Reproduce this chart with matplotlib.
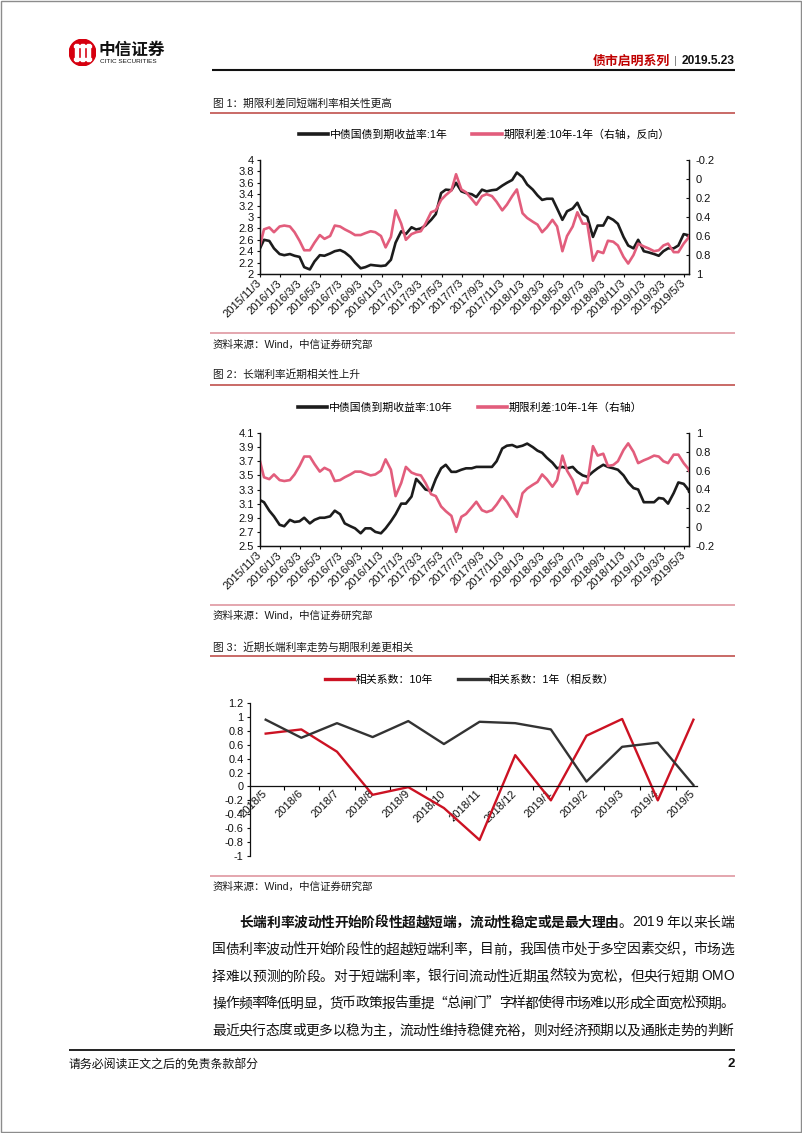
import numpy as np
import pandas as pd
import matplotlib
matplotlib.use('Agg')
import matplotlib.pyplot as plt
from matplotlib.lines import Line2D
from matplotlib.patches import Rectangle, Circle
from matplotlib import font_manager as fm
from matplotlib.ft2font import FT2Font

plt.rcParams['font.family'] = ['Liberation Sans', 'Noto Sans CJK SC']
plt.rcParams['axes.unicode_minus'] = False

# ---------------- DATA ----------------
series_dates = (['2015-11-03'] +
                list(pd.date_range('2015-11-15', '2019-05-15', freq='SMS').strftime('%Y-%m-%d')) +
                ['2019-05-17'])

yield_1y = [2.45, 2.60, 2.58, 2.45,
            2.35, 2.33, 2.35, 2.32, 2.30, 2.12, 2.08, 2.22, 2.33, 2.32, 2.36, 2.40,
            2.42, 2.38, 2.30, 2.20, 2.10, 2.12, 2.16, 2.15, 2.14, 2.15, 2.25, 2.55,
            2.75, 2.70, 2.82, 2.78, 2.80, 2.85, 2.95, 3.05, 3.42, 3.48, 3.47, 3.60,
            3.45, 3.42, 3.40, 3.35, 3.48, 3.45, 3.47, 3.48, 3.55, 3.60, 3.65, 3.78,
            3.70, 3.57, 3.48, 3.38, 3.30, 3.32, 3.32, 3.15, 2.95, 3.10, 3.15, 3.25,
            3.05, 3.00, 2.65, 2.85, 2.85, 3.00, 2.95, 2.88, 2.65, 2.50, 2.45, 2.60,
            2.40, 2.38, 2.35, 2.32, 2.40, 2.45, 2.45, 2.50, 2.70, 2.68, 2.68]

yield_10y = [3.15, 3.12, 3.00, 2.92,
             2.80, 2.78, 2.87, 2.84, 2.85, 2.90, 2.82, 2.87, 2.90, 2.90, 2.92, 3.00,
             2.95, 2.82, 2.78, 2.75, 2.68, 2.75, 2.75, 2.70, 2.68, 2.75, 2.85, 2.95,
             3.10, 3.10, 3.20, 3.45, 3.38, 3.30, 3.28, 3.45, 3.60, 3.65, 3.55, 3.55,
             3.58, 3.60, 3.60, 3.62, 3.62, 3.62, 3.62, 3.70, 3.88, 3.92, 3.93, 3.90,
             3.92, 3.95, 3.90, 3.85, 3.82, 3.75, 3.68, 3.60, 3.62, 3.60, 3.62, 3.55,
             3.50, 3.48, 3.55, 3.60, 3.65, 3.62, 3.60, 3.58, 3.50, 3.40, 3.32, 3.30,
             3.12, 3.12, 3.12, 3.18, 3.17, 3.10, 3.25, 3.40, 3.38, 3.30, 3.27]

spread_10y_1y = [0.70, 0.53, 0.51, 0.56,
                 0.50, 0.49, 0.50, 0.56, 0.65, 0.75, 0.75, 0.67, 0.59, 0.63, 0.60, 0.49,
                 0.50, 0.53, 0.56, 0.59, 0.59, 0.57, 0.55, 0.56, 0.60, 0.72, 0.61, 0.33,
                 0.47, 0.64, 0.58, 0.56, 0.55, 0.47, 0.35, 0.33, 0.22, 0.17, 0.12, -0.05,
                 0.11, 0.14, 0.21, 0.27, 0.18, 0.16, 0.18, 0.24, 0.33, 0.27, 0.18, 0.11,
                 0.36, 0.41, 0.45, 0.48, 0.56, 0.51, 0.43, 0.50, 0.76, 0.60, 0.50, 0.35,
                 0.47, 0.47, 0.86, 0.76, 0.78, 0.65, 0.66, 0.70, 0.82, 0.89, 0.80, 0.68,
                 0.71, 0.73, 0.76, 0.75, 0.70, 0.68, 0.77, 0.77, 0.68, 0.62, 0.60]

date_tick_labels = ['2015/11/3', '2016/1/3', '2016/3/3', '2016/5/3', '2016/7/3', '2016/9/3',
                    '2016/11/3', '2017/1/3', '2017/3/3', '2017/5/3', '2017/7/3', '2017/9/3',
                    '2017/11/3', '2018/1/3', '2018/3/3', '2018/5/3', '2018/7/3', '2018/9/3',
                    '2018/11/3', '2019/1/3', '2019/3/3', '2019/5/3']

corr_months = ['2018/5', '2018/6', '2018/7', '2018/8', '2018/9', '2018/10', '2018/11',
               '2018/12', '2019/1', '2019/2', '2019/3', '2019/4', '2019/5']
corr_10y = [0.76, 0.82, 0.50, -0.12, -0.01, -0.31, -0.77, 0.45, -0.20, 0.73, 0.97, -0.20, 0.96]
corr_1y_neg = [0.96, 0.70, 0.91, 0.71, 0.94, 0.61, 0.93, 0.91, 0.82, 0.07, 0.57, 0.63, 0.02]

legend1 = ['中债国债到期收益率:1年', '期限利差:10年-1年（右轴，反向）']
legend2 = ['中债国债到期收益率:10年', '期限利差:10年-1年（右轴）']
legend3 = ['相关系数：10年', '相关系数：1年（相反数）']
titles = ['图 1：期限利差同短端利率相关性更高', '图 2：长端利率近期相关性上升',
          '图 3：近期长端利率走势与期限利差更相关']
source_text = '资料来源：Wind，中信证券研究部'

body_lines = [
    [('长端利率波动性开始阶段性超越短端，流动性稳定或是最大理由', 'bold'), ('。2019 年以来长端', 'normal')],
    [('国债利率波动性开始阶段性的超越短端利率，目前，我国债市处于多空因素交织，市场选', 'normal')],
    [('择难以预测的阶段。对于短端利率，银行间流动性近期虽然较为宽松，但央行短期 OMO', 'normal')],
    [('操作频率降低明显，货币政策报告重提“总闸门”字样都使得市场难以形成全面宽松预期。', 'normal')],
    [('最近央行态度或更多以稳为主，流动性维持稳健充裕，则对经济预期以及通胀走势的判断', 'normal')],
]

# ---------------- STYLE ----------------
BLACK = '#1c1c1c'
PINK = '#e25d7c'
RED = '#cc1223'
DARK = '#333333'
TITLE_LINE = '#c0504d'
SRC_LINE = '#dd8e99'

W, H = 802, 1133
fig = plt.figure(figsize=(W / 100, H / 100), dpi=100)
renderer = fig.canvas.get_renderer()


def fx(x):
    return x / W


def fy(y):
    return 1 - y / H


def px_ax(x0, y0, x1, y1):
    return fig.add_axes([fx(x0), fy(y1), (x1 - x0) / W, (y1 - y0) / H])


def hline(y, x0, x1, color, lw):
    fig.add_artist(Line2D([fx(x0), fx(x1)], [fy(y), fy(y)], transform=fig.transFigure,
                          color=color, lw=lw, solid_capstyle='butt'))


def ftext(x, y, s, **kw):
    kw.setdefault('va', 'center')
    return fig.text(fx(x), fy(y), s, **kw)


# page border
fig.add_artist(Rectangle((0.6 / W, 0.6 / H), 1 - 1.8 / W, 1 - 1.8 / H, transform=fig.transFigure,
                         fill=False, edgecolor='#8c8c8c', lw=1.0))

# ---------------- HEADER ----------------
axl = px_ax(69, 39, 96, 66)
axl.set_xlim(0, 1)
axl.set_ylim(0, 1)
axl.set_aspect('equal')
axl.axis('off')
axl.add_patch(Circle((0.5, 0.5), 0.49, color='#d6000f'))
for xc in [0.27, 0.5, 0.73]:
    axl.add_patch(Rectangle((xc - 0.045, 0.2), 0.09, 0.6, color='white'))
axl.add_patch(Rectangle((0.18, 0.72), 0.64, 0.07, color='white'))
axl.add_patch(Rectangle((0.18, 0.21), 0.64, 0.07, color='white'))

ftext(99, 50, '中信证券', family='Noto Sans CJK SC', weight='bold', fontsize=12, color='#111111')
ftext(100, 61.5, 'CITIC SECURITIES', family='Liberation Sans', fontsize=4.6, color='#111111')

t_date = ftext(735, 61, '2019.5.23', ha='right', fontsize=8.6, weight='bold', color='#111111')
bb = t_date.get_window_extent(renderer)
t_bar = fig.text((bb.x0 - 5) / W, fy(61), '|', ha='right', va='center', fontsize=8, color='#777777')
bb2 = t_bar.get_window_extent(renderer)
fig.text((bb2.x0 - 4) / W, fy(61), '债市启明系列', ha='right', va='center', fontsize=9.3,
         weight='bold', color='#c00000', family='Noto Sans CJK SC')
hline(69.5, 212, 735, '#111111', 1.5)

# ---------------- TITLES / SOURCES ----------------
title_y = [104, 375, 647]
title_line_y = [112.5, 384.5, 656]
src_line_y = [333, 605, 876]
src_y = [345, 616, 887]
for t, ty, ly in zip(titles, title_y, title_line_y):
    ftext(213, ty, t, fontsize=7.7, color='#1a1a1a')
    hline(ly, 210, 735, TITLE_LINE, 1.2)
for ly, sy in zip(src_line_y, src_y):
    hline(ly, 210, 735, SRC_LINE, 1.1)
    ftext(213, sy, source_text, fontsize=7.6, color='#1a1a1a')

# ---------------- TIME SERIES CHARTS ----------------
dates = pd.to_datetime(series_dates)
tick_pos = pd.to_datetime(date_tick_labels, format='%Y/%m/%d')
xmin, xmax = pd.Timestamp('2015-11-03'), pd.Timestamp('2019-05-17')


def fmt(v):
    v = round(v, 2)
    if abs(v) < 1e-9:
        v = 0.0
    return f'{v:g}'


def ts_chart(box, left, right, lylim, lyt, rylim, ryt, legend_labels, legend_xy):
    ax = px_ax(*box)
    ax.plot(dates, left, color=BLACK, lw=1.9, solid_joinstyle='round')
    ax.set_xlim(xmin, xmax)
    ax.set_ylim(*lylim)
    ax.set_yticks(lyt)
    ax.set_yticklabels([fmt(v) for v in lyt])
    axr = ax.twinx()
    axr.plot(dates, right, color=PINK, lw=1.9, solid_joinstyle='round')
    axr.set_ylim(*rylim)
    axr.set_yticks(ryt)
    axr.set_yticklabels([fmt(v) for v in ryt])
    axr.set_xlim(xmin, xmax)
    for a in (ax, axr):
        a.spines['top'].set_visible(False)
        for s in ('left', 'right', 'bottom'):
            a.spines[s].set_linewidth(0.9)
            a.spines[s].set_color('#111111')
    ax.set_xticks(tick_pos)
    ax.set_xticklabels(date_tick_labels, rotation=45, ha='right', va='center',
                       rotation_mode='anchor', fontsize=8)
    ax.tick_params(axis='x', direction='out', length=2.5, width=0.8, pad=3, colors='#111111')
    ax.tick_params(axis='y', direction='out', length=2.5, width=0.8, pad=2, labelsize=8,
                   colors='#111111')
    axr.tick_params(axis='y', direction='in', length=2.5, width=0.8, pad=5, labelsize=8,
                    colors='#111111')
    handles = [Line2D([], [], color=BLACK, lw=2.6), Line2D([], [], color=PINK, lw=2.6)]
    fig.legend(handles, legend_labels, loc='center', bbox_to_anchor=legend_xy, ncol=2,
               frameon=False, fontsize=7.8, handlelength=2.7, handletextpad=0.15,
               columnspacing=2.3, borderpad=0)
    return ax, axr


ts_chart((260, 160, 689, 274), yield_1y, spread_10y_1y, (2, 4),
         np.round(np.arange(2, 4.01, 0.2), 1), (1.0, -0.2),
         np.round(np.arange(-0.2, 1.01, 0.2), 1), legend1, (fx(484), fy(135)))

ts_chart((260, 433, 689, 546), yield_10y, spread_10y_1y, (2.5, 4.1),
         np.round(np.arange(2.5, 4.11, 0.2), 1), (-0.2, 1.0),
         np.round(np.arange(-0.2, 1.01, 0.2), 1), legend2, (fx(470), fy(408)))

# ---------------- CORRELATION CHART ----------------
ax3 = px_ax(250, 703, 697, 856)
xi = np.arange(len(corr_months))
ax3.plot(xi, corr_10y, color=RED, lw=1.7, solid_joinstyle='round')
ax3.plot(xi, corr_1y_neg, color=DARK, lw=1.7, solid_joinstyle='round')
ax3.set_xlim(-0.44, 12.1)
ax3.set_ylim(-1, 1.2)
ax3.spines['bottom'].set_position(('data', 0))
ax3.spines['top'].set_visible(False)
ax3.spines['right'].set_visible(False)
for s in ('left', 'bottom'):
    ax3.spines[s].set_linewidth(0.9)
    ax3.spines[s].set_color('#111111')
ax3.set_xticks(xi[:-1] + 0.5)
ax3.set_xticklabels([])
ax3.set_xticks(xi, minor=True)
ax3.set_xticklabels(corr_months, minor=True, rotation=45, ha='right', va='center',
                    rotation_mode='anchor', fontsize=8)
ax3.tick_params(axis='x', which='minor', length=0, pad=4, colors='#111111')
ax3.tick_params(axis='x', which='major', direction='out', length=3, width=0.8)
yt3 = np.round(np.arange(-1, 1.21, 0.2), 1)
ax3.set_yticks(yt3)
ax3.set_yticklabels([fmt(v) for v in yt3])
ax3.tick_params(axis='y', direction='out', length=2.5, width=0.8, pad=2, labelsize=7.9,
                colors='#111111')
fig.legend([Line2D([], [], color=RED, lw=2.4), Line2D([], [], color=DARK, lw=2.4)], legend3,
           loc='center', bbox_to_anchor=(fx(470), fy(680)), ncol=2, frameon=False, fontsize=7.8,
           handlelength=2.7, handletextpad=0.15, columnspacing=2.3, borderpad=0)

# ---------------- BODY TEXT (justified) ----------------


def make_ft(family, weight='normal'):
    try:
        return FT2Font(fm.findfont(fm.FontProperties(family=family, weight=weight)))
    except Exception:
        return None


FTS = {('lat', 'normal'): make_ft('Liberation Sans'), ('lat', 'bold'): make_ft('Liberation Sans', 'bold'),
       ('cjk', 'normal'): make_ft('Noto Sans CJK SC'), ('cjk', 'bold'): make_ft('Noto Sans CJK SC', 'bold')}


def advance(ch, size, weight):
    kind = 'lat' if ord(ch) < 128 else 'cjk'
    px = size * 100 / 72
    f = FTS.get((kind, weight))
    if f is None:
        return px * (0.55 if kind == 'lat' else 1.0)
    try:
        f.set_size(size, 100)
        g = f.load_char(ord(ch))
        return g.linearHoriAdvance / 65536
    except Exception:
        return px * (0.55 if kind == 'lat' else 1.0)


def is_latin(c):
    return ord(c) < 128 and c != ' '


BODY_SIZE = 9.9
em = BODY_SIZE * 100 / 72
body_y = [922, 949, 976, 1003, 1030]
for i, (segs, yc) in enumerate(zip(body_lines, body_y)):
    chars = [(c, w) for s, w in segs for c in s]
    advs = [advance(c, BODY_SIZE, w) for c, w in chars]
    # gaps that may stretch: not inside a run of latin characters
    stretch = [not (is_latin(chars[k][0]) and is_latin(chars[k + 1][0]))
               for k in range(len(chars) - 1)]
    x0 = 212 + (2 * em if i == 0 else 0)
    x1 = 734
    extra = (x1 - x0 - sum(advs)) / max(sum(stretch), 1)
    xpos = x0
    for k, ((c, w), a) in enumerate(zip(chars, advs)):
        if c != ' ':
            fam = 'Liberation Sans' if ord(c) < 128 else 'Noto Sans CJK SC'
            fig.text(fx(xpos), fy(yc + 4.5), c, ha='left', va='baseline', fontsize=BODY_SIZE,
                     weight=w, family=fam, color='#111111')
        xpos += a + (extra if k < len(stretch) and stretch[k] else 0)

# ---------------- FOOTER ----------------
hline(1050, 69, 735, '#111111', 1.3)
ftext(69, 1064, '请务必阅读正文之后的免责条款部分', fontsize=8.6, color='#111111',
      family='Noto Sans CJK SC')
ftext(735, 1064, '2', ha='right', fontsize=9.5, weight='bold', color='#111111')

fig.savefig('out.png', dpi=100)
